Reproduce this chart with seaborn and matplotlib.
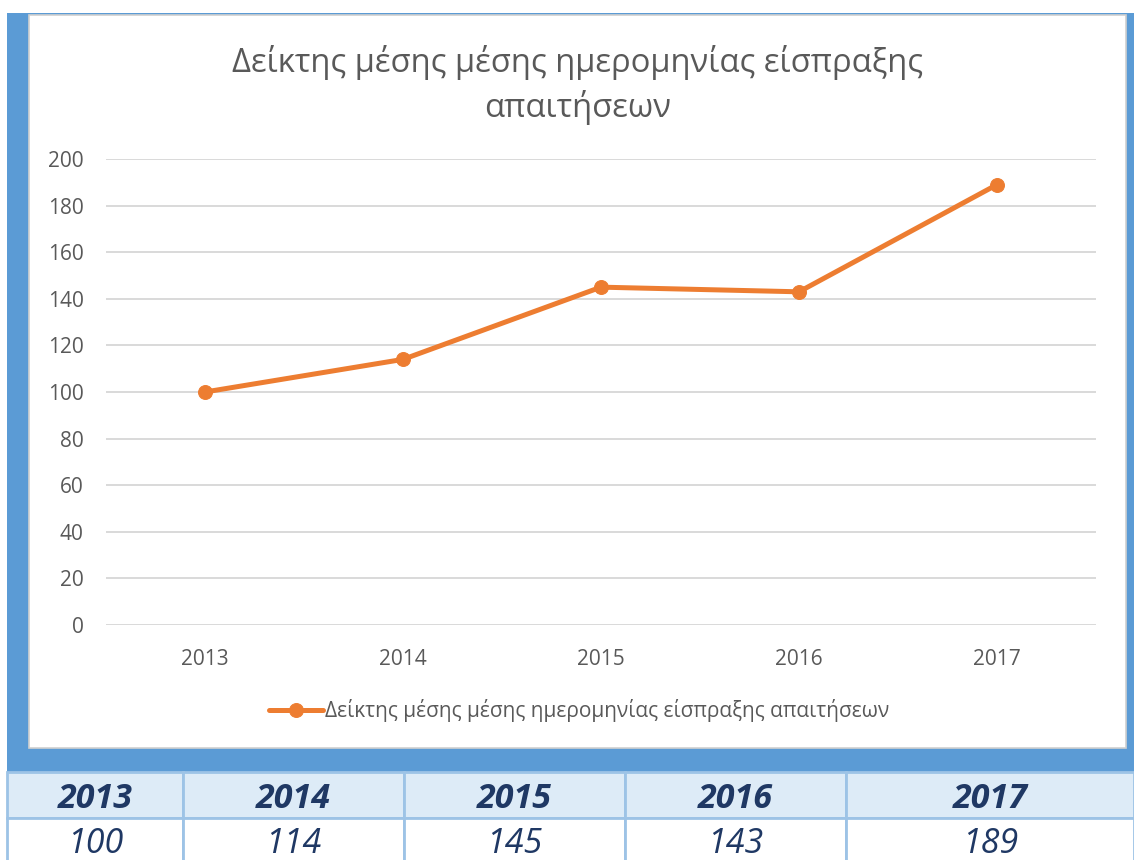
import matplotlib
matplotlib.use("Agg")
import matplotlib.pyplot as plt
import seaborn as sns
import pandas as pd
from matplotlib.patches import Rectangle

sns.set_theme(style="white")
plt.rcParams["font.family"] = ["Open Sans", "DejaVu Sans"]

# data
years = ["2013", "2014", "2015", "2016", "2017"]
index_values = [100, 114, 145, 143, 189]
series_name = "Δείκτης μέσης μέσης ημερομηνίας είσπραξης απαιτήσεων"
title_text = "Δείκτης μέσης μέσης ημερομηνίας είσπραξης\nαπαιτήσεων"
y_ticks = list(range(0, 201, 20))

df = pd.DataFrame({"year": years, "value": index_values})

W, H = 1134, 860
ORANGE = "#ED7D31"
GRID = "#D9D9D9"
TXT = "#595959"
FRAME = "#5B9BD5"
HEAD_BG = "#DDEBF7"
CELL_EDGE = "#9DC3E6"
NAVY = "#1F3864"


def box(x0, y0, x1, y1):
    # pixel box -> figure fraction [left, bottom, width, height]
    return [x0 / W, 1 - y1 / H, (x1 - x0) / W, (y1 - y0) / H]


fig = plt.figure(figsize=(W / 100, H / 100), dpi=100, facecolor="white")

# blue frame and white chart area (behind everything)
l, b, w, h = box(7, 13, W, 772)
fig.patches.append(Rectangle((l, b), w, h, transform=fig.transFigure,
                             facecolor=FRAME, edgecolor="none", zorder=-3))
l, b, w, h = box(29, 15, 1126, 748)
fig.patches.append(Rectangle((l, b), w, h, transform=fig.transFigure,
                             facecolor="white", edgecolor="#D0D0D0", lw=1.2, zorder=-2))

# line chart
ax = fig.add_axes(box(106, 159, 1096, 625))
ax.set_facecolor("none")
sns.lineplot(data=df, x="year", y="value", ax=ax, color=ORANGE, linewidth=3.6,
             marker="o", markersize=10, markeredgecolor=ORANGE, label=series_name,
             legend=False)
ax.set_xlim(-0.5, len(years) - 0.5)
ax.set_ylim(0, 200)
ax.set_yticks(y_ticks)
ax.yaxis.grid(True, color=GRID, linewidth=1.4)
ax.set_axisbelow(True)
for s in ax.spines.values():
    s.set_visible(False)
ax.tick_params(axis="both", length=0, labelsize=15, labelcolor=TXT)
ax.tick_params(axis="y", pad=16)
ax.tick_params(axis="x", pad=17)
ax.set_xlabel("")
ax.set_ylabel("")

fig.text(578 / W, 1 - 85 / H, title_text, ha="center", va="center",
         fontsize=23.6, color=TXT, linespacing=1.4)

handles, labels = ax.get_legend_handles_labels()
fig.legend(handles, labels, loc="center", bbox_to_anchor=(579 / W, 1 - 711 / H),
           frameon=False, fontsize=15, labelcolor=TXT, handlelength=2.6,
           handletextpad=0.1)

# table under the chart
col_edges = [7, 183, 404, 625, 846, W]
row_edges = [772, 818, 866]
tax = fig.add_axes(box(0, 772, W, H))
tax.set_xlim(0, W)
tax.set_ylim(H, 772)
tax.axis("off")
for r, (top, bot) in enumerate(zip(row_edges[:-1], row_edges[1:])):
    row_text = years if r == 0 else [str(v) for v in index_values]
    for c, (x0, x1) in enumerate(zip(col_edges[:-1], col_edges[1:])):
        tax.add_patch(Rectangle((x0, top), x1 - x0, bot - top,
                                facecolor=HEAD_BG if r == 0 else "white",
                                edgecolor=CELL_EDGE, lw=2, clip_on=False))
        tax.text((x0 + x1) / 2, (top + min(bot, H + 2)) / 2 + 4, row_text[c],
                 ha="center", va="center", fontsize=24.5, color=NAVY,
                 style="italic", weight="bold" if r == 0 else "normal")

fig.savefig("out.png", dpi=100, facecolor="white")
